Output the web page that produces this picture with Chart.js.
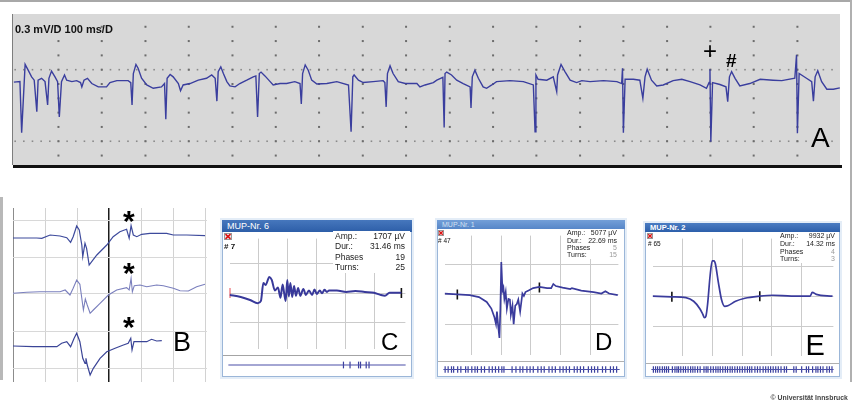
<!DOCTYPE html>
<html><head><meta charset="utf-8">
<script src="https://cdn.jsdelivr.net/npm/chart.js@4.4.1/dist/chart.umd.min.js"></script>
<style>
html,body{margin:0;padding:0;background:#fff}
body{position:relative;width:854px;height:409px;overflow:hidden;font-family:"Liberation Sans",Arial,sans-serif;color:#111}
.t{position:absolute;line-height:1;white-space:nowrap;z-index:6}
.r{position:absolute;z-index:1}
canvas{position:absolute;display:block;z-index:2}
.win{position:absolute;box-sizing:border-box;border:1px solid #9bb6d8;background:#fff;box-shadow:0 0 0 2px #e4edf7;z-index:1}
.tb{position:absolute;box-sizing:border-box;padding-left:5px;white-space:nowrap;overflow:hidden;color:#fff;z-index:3}
.info{position:absolute;background:#fff;z-index:5}
</style></head><body>
<div class="r" style="left:0;top:0;width:852px;height:1.5px;background:#a8a8a8"></div>
<div class="r" style="left:849.5px;top:0;width:2px;height:382px;background:#b0b0b0"></div>
<div class="r" style="left:12px;top:14px;width:1px;height:151px;background:#7e7e7e"></div>
<div class="r" style="left:13px;top:165px;width:829px;height:3px;background:#111"></div>
<div class="r" style="left:0;top:197px;width:3px;height:183px;background:#b8b8b8"></div>

<div class="win" style="left:222px;top:220px;width:190px;height:157px"></div>
<div class="tb" style="left:222px;top:220px;width:190px;height:12px;font-size:9px;line-height:12px;background:linear-gradient(#4677bd,#2d5ea8)">MUP-Nr. 6</div>
<div class="win" style="left:437px;top:220px;width:188px;height:157px"></div>
<div class="tb" style="left:437px;top:220px;width:188px;height:9px;font-size:7px;line-height:9px;color:#d4e2f3;background:linear-gradient(#739fd8,#5686c8)">MUP-Nr. 1</div>
<div class="win" style="left:645px;top:223px;width:195px;height:154px"></div>
<div class="tb" style="left:645px;top:223px;width:195px;height:9px;font-size:7.5px;line-height:9px;font-weight:bold;background:linear-gradient(#4a7cc2,#2c5fab)">MUP-Nr. 2</div>

<div class="r" style="left:223px;top:355px;width:188px;height:1px;background:#a4a4a4;z-index:3"></div>
<div class="r" style="left:438px;top:361px;width:186px;height:1px;background:#b0b0b0;z-index:3"></div>
<div class="r" style="left:646px;top:363px;width:193px;height:1px;background:#b0b0b0;z-index:3"></div>

<div class="info" style="left:333px;top:231px;width:77px;height:42px"></div>
<div class="info" style="left:564px;top:229px;width:60px;height:30px"></div>
<div class="info" style="left:777px;top:232px;width:62px;height:31px"></div>

<svg class="r" style="left:224px;top:233px;z-index:6" width="8" height="7"><rect x="0.5" y="0.5" width="7" height="6" fill="#eee" stroke="#999"/><path d="M1.5 1.2L6.5 5.8M6.5 1.2L1.5 5.8" stroke="#d11" stroke-width="1.6"/></svg>
<svg class="r" style="left:438px;top:230px;z-index:6" width="6" height="6"><rect x="0.5" y="0.5" width="5" height="5" fill="#eee" stroke="#999"/><path d="M1.2 1.2L4.8 4.8M4.8 1.2L1.2 4.8" stroke="#d11" stroke-width="1.3"/></svg>
<svg class="r" style="left:647px;top:233px;z-index:6" width="6" height="6"><rect x="0.5" y="0.5" width="5" height="5" fill="#eee" stroke="#999"/><path d="M1.2 1.2L4.8 4.8M4.8 1.2L1.2 4.8" stroke="#d11" stroke-width="1.3"/></svg>

<div class="t" style="left:224px;top:242.5px;font-size:8px;font-weight:bold"># 7</div>
<div class="t" style="left:438px;top:238px;font-size:6.5px"># 47</div>
<div class="t" style="left:648px;top:240.5px;font-size:6.5px"># 65</div>

<div class="t" style="left:15px;top:23.6px;font-size:11px;font-weight:bold">0.3 mV/D 100 ms/D</div>
<div class="t" style="left:703px;top:39px;font-size:24px;color:#000">+</div>
<div class="t" style="left:726px;top:50.5px;font-size:19px;font-weight:bold;color:#000">#</div>
<div class="t" style="left:811px;top:124.4px;font-size:28px;color:#000">A</div>
<div class="t" style="left:123px;top:206px;font-size:30px;font-weight:bold;color:#000">*</div>
<div class="t" style="left:123px;top:258px;font-size:30px;font-weight:bold;color:#000">*</div>
<div class="t" style="left:123px;top:312px;font-size:30px;font-weight:bold;color:#000">*</div>
<div class="t" style="left:173px;top:328.5px;font-size:27px;color:#000">B</div>
<div class="t" style="left:381px;top:330px;font-size:24px;color:#000">C</div>
<div class="t" style="left:595px;top:330px;font-size:24px;color:#000">D</div>
<div class="t" style="left:805.5px;top:331px;font-size:29px;color:#000">E</div>
<div class="t" style="right:6px;top:393.5px;font-size:8px;font-weight:bold;color:#444;transform:scaleX(0.86);transform-origin:right center">© Universität Innsbruck</div>

<script>
// ---------- Panel A: continuous EMG (ms, mV) ----------
const aTime=[2,16,20,28,35,43,49,55,58,66,74,80,83,89,97,103,107,112,119,124,136,147,156,159,164,172,182,197,216,224,240,266,272,275,278,284,289,297,309,324,343,350,353,356,363,370,382,387,393,409,428,447,459,467,471,474,480,486,494,501,513,524,540,555,561,565,569,573,582,594,601,617,632,651,663,666,669,675,682,690,702,725,748,775,781,785,788,798,809,832,855,859,862,865,871,878,890,906,933,940,952,971,979,993,996,998,1002,1013,1025,1040,1056,1058,1061,1067,1075,1086,1094,1106,1117,1148,1179,1202,1206,1208,1213,1233,1248,1256,1258,1266,1275,1287,1302,1314,1333,1364,1395,1406,1408,1410,1414,1433,1448,1455,1460,1465,1475,1487,1502,1525,1545,1564,1587,1602,1608,1610,1612,1616,1633,1647,1651,1655,1660,1668,1679,1702,1726,1756,1776,1806,1810,1812,1816,1833,1845,1849,1853,1859,1868,1880,1895,1910];
const aVolt=[0.04,0.05,-1.02,0.41,0.29,0.15,0.08,-0.58,0.08,0.12,0.05,-0.44,0.12,0.27,0.15,0.05,-0.69,0.05,0.19,0.08,0.05,0.07,0.03,-0.06,0.08,0.12,0.01,-0.06,-0.06,0.03,0.07,0.07,0.03,-0.44,0.22,0.41,0.33,0.12,-0.02,-0.09,-0.06,0.01,-0.74,0.12,0.20,0.15,0.01,-0.14,-0.02,0.01,0.08,0.12,0.19,0.12,-0.36,0.26,0.36,0.22,0.05,-0.04,-0.06,0.01,0.08,0.15,0.17,-0.69,0.22,0.25,0.17,0.05,-0.02,0.01,0.01,0.05,0.01,-0.42,0.22,0.40,0.29,0.08,0.00,0.01,0.05,-0.02,-1.00,0.15,0.19,0.08,0.03,0.05,0.07,0.03,-0.48,0.22,0.38,0.22,0.05,0.01,0.01,-0.06,-0.02,0.03,0.08,0.14,-0.91,0.22,0.25,0.19,0.08,0.01,-0.06,-0.50,0.15,0.29,0.12,-0.06,-0.09,-0.02,0.05,0.07,0.05,-0.02,-1.00,0.19,0.10,0.08,0.15,-0.16,0.19,0.41,0.26,0.08,0.03,0.07,0.05,0.07,0.05,0.01,0.33,-1.02,0.10,0.10,0.08,-0.30,0.15,0.31,0.08,-0.04,-0.02,0.07,0.10,0.05,-0.02,-0.09,0.03,0.31,-1.21,0.03,-0.01,-0.06,-0.37,0.15,0.26,0.12,-0.04,0.01,0.10,0.08,0.07,0.12,0.61,-1.03,0.22,0.12,0.05,-0.36,0.15,0.28,0.05,-0.11,-0.11,-0.08];
const aGridT=[105,205,306,406,507,607,707,808,908,1009,1109,1209,1310,1410,1511,1611,1711,1812];
const aGridV=[1.2,0.9,0.6,0.3,0,-0.3,-0.6,-0.9,-1.2,-1.5];
const aDenseV=[0.3,-1.2];

// ---------- Panel B: three sweeps (ms, µV) ----------
const bT1=[0,7.4,9.0,11.6,14.7,16.8,18.0,18.8,19.9,20.7,21.5,21.8,22.5,23.0,23.8,24.6,26.2,29.3,31.3,33.4,35.5,36.3,36.9,37.6,38.7,40.2,42.8,48.0,50.1,54.3,60.0];
const bV1=[0,0,-3,30,20,3,-43,13,120,80,-70,-187,-53,-103,-270,-237,-170,-70,13,63,87,-3,123,30,13,37,47,47,30,30,23];
const bT2=[0,4.3,8.4,14.7,16.3,17.8,18.8,19.9,20.9,21.5,22.0,22.6,23.2,24.1,25.1,27.2,29.8,32.4,35.5,36.3,36.9,37.3,37.9,39.7,41.8,44.9,47.0,50.1,52.2,54.8,57.4,60.0];
const bV2=[-13,-3,3,3,20,-30,37,120,77,-63,-180,-70,-130,-213,-180,-113,-30,20,43,20,137,3,63,70,53,70,63,37,13,10,53,77];
const bT3=[0,6.3,13.7,15.2,16.8,18.0,19.1,19.9,20.9,21.8,22.5,22.8,23.2,24.1,25.1,27.2,29.3,31.9,34.5,36.0,36.8,37.2,37.8,39.7,41.8,43.3,44.9,46.5];
const bV3=[5,-2,-2,32,48,-2,82,132,48,-118,-168,-118,-185,-285,-218,-118,-52,-18,15,32,82,-35,48,48,48,72,55,58];
const bGridT=[0,10,20,30,40,50,60];
const bGridV=[120,490,860,1230,1600];

// ---------- Panel C: MUP 6 (ms, µV) ----------
const cT=[0,1.92,3.52,4.85,5.39,5.81,6.19,6.83,7.25,7.79,8.32,8.75,9.12,9.39,9.65,9.92,10.19,10.45,10.77,11.09,11.41,11.79,12.16,12.69,13.12,13.65,14.19,14.61,14.99,15.52,15.89,16.32,16.75,17.12,18.45,20.05,21.65,23.25,24.85,25.92,26.72,27.52,29.55];
const cV=[-120,-258,-462,-678,-522,678,540,1080,882,180,378,-318,582,-18,-522,882,-222,678,-258,480,-180,342,-180,282,-120,180,-120,240,-60,180,-18,222,78,180,180,78,138,78,18,-120,-180,18,18];
const cMarkT=[0,29.55];
const cMarkV=[0,0];
const cFire=[6.49,6.86,7.34,7.45,7.77,7.93];

// ---------- Panel D: MUP 1 ----------
const dT=[0,2.14,4.22,5.78,7.08,7.86,8.39,8.64,8.80,9.02,9.22,9.38,9.53,9.73,9.89,10.05,10.27,10.47,10.73,10.98,11.14,11.41,11.61,11.88,12.14,12.39,12.70,13.08,13.33,13.59,14.11,14.89,15.94,17.23,17.92,18.28,18.70,19.84,21.14,21.41,22.97,25.05,26.36,27.03,27.66,29.11];
const dV=[40,-18,-60,-198,-522,-960,-1560,-1998,-1158,-2160,-2922,-960,2142,240,438,-318,138,-960,-318,-360,-1362,-762,-1998,-762,-660,-360,-1158,42,-120,138,240,402,480,402,402,678,540,438,342,402,240,138,42,198,42,-60];
const dMarkT=[2.14,15.94];
const dMarkV=[-18,438];
const dFire=[0.11,0.28,0.47,0.59,0.82,1.00,1.27,1.41,1.62,1.80,1.94,2.16,2.34,2.60,2.78,2.96,3.14,3.32,3.44,3.90,4.12,4.35,4.51,4.74,4.92,5.10,5.36,5.55,5.72,5.99,6.17,6.35,6.61,6.79,6.97,7.15,7.42,7.59,7.77,7.95,8.22,8.40,8.57,8.75,9.02,9.20,9.47,9.64,9.82];

// ---------- Panel E: MUP 2 ----------
const eT=[0,3.23,5.58,6.88,7.92,8.40,8.70,8.95,9.22,9.64,10.00,10.30,10.52,11.05,11.56,12.08,12.61,13.91,15.47,17.97,20.16,23.28,26.41,26.77,27.45,30.16];
const eV=[0,-105,-255,-855,-2100,-3000,-3600,-3300,-1350,3405,5895,5900,5400,2145,-600,-1695,-1605,-855,-345,0,150,0,0,645,300,0];
const eMarkT=[3.23,17.97];
const eMarkV=[-105,0];
const eFire=[0.12,0.24,0.35,0.47,0.61,0.73,0.84,0.95,1.16,1.30,1.41,1.50,1.62,1.76,1.88,2.02,2.16,2.28,2.40,2.54,2.68,2.89,3.01,3.11,3.26,3.40,3.54,3.66,3.78,3.92,4.06,4.18,4.32,4.44,4.58,4.72,4.85,4.99,5.13,5.27,5.39,5.51,5.68,5.82,5.96,6.13,6.27,6.41,6.54,6.68,6.82,6.96,7.11,7.29,7.41,7.81,7.94,8.24,8.50,8.62,8.84,9.02,9.13,9.27,9.41,9.62,9.76,9.90];
const stripRange=[0,10];

// ---------- info texts ----------
const infoLabels=['Amp.:','Dur.:','Phases','Turns:'];
const cInfo=['1707 µV','31.46 ms','19','25'];
const dInfo=['5077 µV','22.69 ms','5','15'];
const eInfo=['9932 µV','14.32 ms','4','3'];

function info(x0,x1,y0,dy,fs,vals,grayVals){
  infoLabels.forEach((l,i)=>{
    const a=document.createElement('div');a.className='t';a.textContent=l;
    Object.assign(a.style,{left:x0+'px',top:(y0+i*dy)+'px',fontSize:fs+'px',color:'#222'});
    document.body.appendChild(a);
    const b=document.createElement('div');b.className='t';b.textContent=vals[i];
    Object.assign(b.style,{right:(854-x1)+'px',top:(y0+i*dy)+'px',fontSize:fs+'px',color:(grayVals&&i>=2)?'#9a9a9a':'#222'});
    document.body.appendChild(b);
  });
}
info(335,405,231.9,10.3,8.5,cInfo,false);
info(567,617,229.1,7.4,7,dInfo,true);
info(780,835,232.4,7.6,7,eInfo,true);

// ---------- chart helpers ----------
const pts=(xs,ys,off=0)=>xs.map((x,i)=>({x:x,y:ys[i]+off}));
function place(left,top,w,h){
  const c=document.createElement('canvas');c.width=w;c.height=h;
  Object.assign(c.style,{left:left+'px',top:top+'px',width:w+'px',height:h+'px'});
  document.body.appendChild(c);return c;
}
function lin(min,max,ticks,color,show=true){
  return {type:'linear',min:min,max:max,display:true,
    afterBuildTicks:s=>{s.ticks=ticks.map(v=>({value:v}));},
    ticks:{display:false},
    grid:{display:show,color:color||'#ccc',lineWidth:1,drawTicks:false},
    border:{display:false}};
}
const common={responsive:false,animation:false,events:[],layout:{padding:0},
  plugins:{legend:{display:false},tooltip:{enabled:false}}};

// Panel A
const dotsPlugin={id:'gridDots',beforeDatasetsDraw(ch){
  const ctx=ch.ctx,x=ch.scales.x,y=ch.scales.y;ctx.save();
  ctx.fillStyle='#8a8a8a';
  for(const v of aDenseV){
    const py=y.getPixelForValue(v);
    const dot=t=>{const px=x.getPixelForValue(t);ctx.fillRect(px-0.8,py-0.8,1.6,1.6);};
    for(let i=0;i<aGridT.length-1;i++){const st=(aGridT[i+1]-aGridT[i])/5;for(let k=0;k<5;k++)dot(aGridT[i]+k*st);}
    const st0=(aGridT[1]-aGridT[0])/5;
    for(let t=aGridT[0]-st0;t>x.min;t-=st0)dot(t);
    for(let t=aGridT[aGridT.length-1];t<x.max;t+=st0)dot(t);
  }
  ctx.fillStyle='#6c6c6c';
  for(const t of aGridT)for(const v of aGridV){ctx.fillRect(x.getPixelForValue(t)-1,y.getPixelForValue(v)-1,2,2);}
  ctx.restore();
}};
const ca=place(13,14,827,151);ca.style.background='#d8d8d8';
new Chart(ca,{type:'line',
  data:{datasets:[{data:pts(aTime,aVolt),borderColor:'#3a3e9e',borderWidth:1.4,pointRadius:0,tension:0}]},
  options:{...common,scales:{x:lin(0,1910.4,aGridT,'#999',false),y:lin(-1.698,1.4675,aGridV,'#999',false)}},
  plugins:[dotsPlugin]});

// Panel B
const bOff=[1420,880,335];
new Chart(place(13,208,194,174),{type:'line',
  data:{datasets:[
    {data:pts(bT1,bV1,bOff[0]),borderColor:'#3d4a9c',borderWidth:1.2,pointRadius:0},
    {data:pts(bT2,bV2,bOff[1]),borderColor:'#7a7fbd',borderWidth:1.1,pointRadius:0},
    {data:pts(bT3,bV3,bOff[2]),borderColor:'#3b4597',borderWidth:1.2,pointRadius:0}]},
  options:{...common,scales:{
    x:Object.assign(lin(0,60.625,bGridT),{grid:{display:true,drawTicks:false,
        color:c=>c.tick&&c.tick.value===30?'#1c1c1c':(c.tick&&c.tick.value===0?'#8c8c8c':'#d2d2d2'),
        lineWidth:c=>c.tick&&c.tick.value===30?1.5:1}}),
    y:lin(-20,1720,bGridV,'#d8d8d8')}}});

// MUP windows
function mup(left,top,w,h,xr,yr,xt,yt,T,V,MT,MV,mcol,col,lw,mode){
  new Chart(place(left,top,w,h),{type:'line',
    data:{datasets:[
      {data:pts(T,V),borderColor:col,borderWidth:lw,pointRadius:0,cubicInterpolationMode:mode},
      {data:pts(MT,MV),showLine:false,pointStyle:'line',pointRotation:90,pointRadius:5,pointBorderWidth:1.6,pointBorderColor:mcol}]},
    options:{...common,scales:{x:lin(xr[0],xr[1],xt,'#cbcbcb'),y:lin(yr[0],yr[1],yt,'#cbcbcb')}}});
}
function strip(left,top,w,h,fire){
  new Chart(place(left,top,w,h),{type:'line',
    data:{datasets:[
      {data:[{x:stripRange[0],y:0},{x:stripRange[1],y:0}],borderColor:'#4a4fa8',borderWidth:1.2,pointRadius:0},
      {data:fire.map(t=>({x:t,y:0})),showLine:false,pointStyle:'line',pointRotation:90,pointRadius:3.5,pointBorderWidth:1.2,pointBorderColor:'#3a3f9e'}]},
    options:{...common,scales:{x:lin(stripRange[0],stripRange[1],stripRange,'#fff',false),y:lin(-1,1,[-1,1],'#fff',false)}}});
}
mup(223,232,189,124,[0,30.24],[-3780,3660],[5,10,15,20,25],[-2000,0,2000],cT,cV,cMarkT,cMarkV,['#e0202a','#111'],'#38399a',2,'monotone');
strip(223,356,188,18,cFire);
mup(438,229,187,133,[0,29.22],[-4080,3900],[4.5,9.5,14.5,19.5,24.5],[-2000,0,2000],dT,dV,dMarkT,dMarkV,['#111','#111'],'#3a3b9c',1.7,'default');
strip(438,361,187,17,dFire);
mup(646,232,194,131,[0,30.31],[-10050,9600],[5,10,15,20,25],[-5000,0,5000],eT,eV,eMarkT,eMarkV,['#111','#111'],'#3a3b9c',1.7,'monotone');
strip(646,361,193,17,eFire);
</script>
</body></html>
